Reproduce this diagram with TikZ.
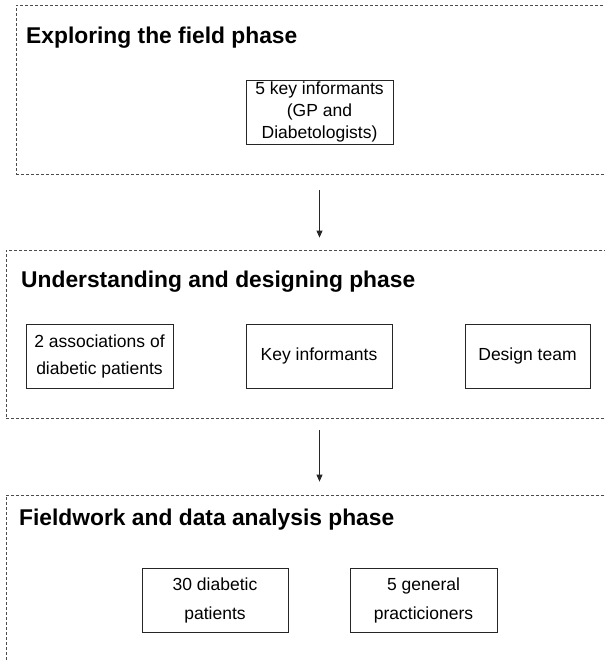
\documentclass[tikz,border=0pt]{standalone}
\usepackage{fontspec}
\setmainfont{Liberation Sans}
\usetikzlibrary{arrows.meta}
\tikzset{
  frame/.style={draw=black!70, line width=0.8pt, dash pattern=on 3pt off 2pt, rectangle, inner sep=0pt},
  ptitle/.style={anchor=west, inner sep=0pt, font=\fontsize{22.8}{27}\selectfont\bfseries},
  item/.style={draw=black!85, line width=0.9pt, rectangle, inner sep=0pt, align=center, font=\fontsize{17.5}{#1}\selectfont},
  item/.default=21,
  arr/.style={draw=black!85, line width=0.9pt, -{Triangle[length=7pt,width=6pt]}}
}
\begin{document}
\begin{tikzpicture}[x=1pt,y=-1pt]
\useasboundingbox (0,0) rectangle (605,662);
\clip (0,0) rectangle (605,662);
% phase frames
\node[frame, minimum width=624pt, minimum height=169pt] (f1) at (328,89.5) {};
\node[frame, minimum width=634pt, minimum height=168pt] (f2) at (323,334) {};
\node[frame, minimum width=634pt, minimum height=205pt] (f3) at (323,597.5) {};
% titles
\node[ptitle] (t1) at (26,38) {Exploring the field phase};
\node[ptitle] (t2) at (21,282) {Understanding and designing phase};
\node[ptitle] (t3) at (19,520) {Fieldwork and data analysis phase};
% items
\node[item=22, minimum width=147pt, minimum height=64pt] (a) at (319.5,112) {5 key informants\\(GP and\\Diabetologists)};
\node[item=27, minimum width=147pt, minimum height=64pt] (n1) at (99.5,356) {2 associations of\\diabetic patients};
\node[item, minimum width=146pt, minimum height=64pt] (n2) at (319,356) {Key informants};
\node[item, minimum width=125pt, minimum height=64pt] (n3) at (527.5,356) {Design team};
\node[item=29, minimum width=146pt, minimum height=64pt] (r1) at (215,600) {30 diabetic\\patients};
\node[item=29, minimum width=147pt, minimum height=64pt] (r2) at (423.5,600) {5 general\\practicioners};
% arrows
\draw[arr] ([yshift=-16pt]f1.south -| a.south) -- ([yshift=12pt]f2.north -| a.south);
\draw[arr] ([yshift=-12pt]f2.south -| a.south) -- ([yshift=13pt]f3.north -| a.south);
\end{tikzpicture}
\end{document}
